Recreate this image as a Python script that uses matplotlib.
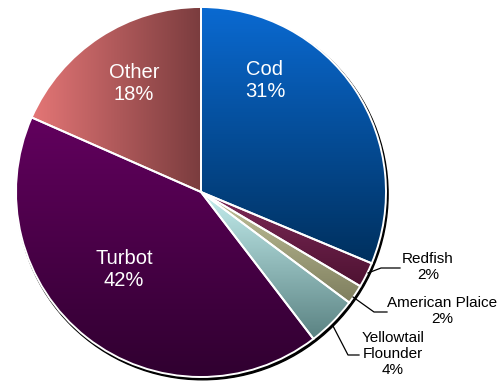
import numpy as np
import matplotlib
matplotlib.use("Agg")
from matplotlib import pyplot as plt
from matplotlib.colors import LinearSegmentedColormap
from matplotlib.patches import Circle

plt.rcParams["font.family"] = ["Liberation Sans", "DejaVu Sans"]

species = ["Cod", "Redfish", "American Plaice", "Yellowtail\nFlounder", "Turbot", "Other"]
shares = [31.3, 2.2, 1.7, 4.4, 42.0, 18.4]

# colori del gradiente (inizio, fine) e direzione per ogni fetta
grad_start = ["#0a6ad2", "#7e2a58", "#c4c49c", "#c4eeee", "#62005e", "#e47676"]
grad_end = ["#00305e", "#4e1232", "#7e7e5e", "#5a8282", "#300030", "#7a3c3e"]
grad_dir = ["v", "v", "v", "v", "v", "h"]

W, H = 502, 381
cx, cy, R = 201, 381 - 192, 185

fig = plt.figure(figsize=(W / 100, H / 100), dpi=100)
ax = fig.add_axes([0, 0, 1, 1])

# ombra sotto la torta
ax.add_patch(Circle((cx + 1.5, cy - 2.2), R + 0.6, color="black", zorder=0))

wedges, _ = ax.pie(shares, center=(cx, cy), radius=R, startangle=90,
                   counterclock=False, frame=True,
                   wedgeprops=dict(edgecolor="white", linewidth=1.4))
ax.set_xlim(0, W)
ax.set_ylim(0, H)
ax.set_aspect("equal")
ax.axis("off")

for w, c0, c1, d in zip(wedges, grad_start, grad_end, grad_dir):
    # bounding box della fetta in coordinate dati
    verts = w.get_transform().transform(w.get_path().vertices)
    verts = ax.transData.inverted().transform(verts)
    x0, y0 = verts.min(axis=0)
    x1, y1 = verts.max(axis=0)
    cmap = LinearSegmentedColormap.from_list("g", [c0, c1])
    if d == "v":
        grad = np.linspace(0, 1, 256).reshape(-1, 1)  # dall'alto verso il basso
    else:
        grad = np.linspace(0, 1, 256).reshape(1, -1)  # da sinistra a destra
    im = ax.imshow(grad, cmap=cmap, extent=(x0, x1, y0, y1), origin="upper",
                   aspect="auto", zorder=1, interpolation="bilinear")
    im.set_clip_path(w)
    w.set_facecolor("none")
    w.set_zorder(2)

ax.set_xlim(0, W)
ax.set_ylim(0, H)


def pct(v):
    return f"{v / sum(shares) * 100:.0f}%"


# etichette dentro le fette grandi
inner = {0: (265, 80.5), 5: (134, 83.5), 4: (124, 269.5)}
for i, (x, y) in inner.items():
    ax.text(x, H - y, f"{species[i]}\n{pct(shares[i])}", color="white",
            fontsize=14.5, ha="center", va="center", linespacing=1.2, zorder=3)

# etichette esterne con linee guida
outer = {
    1: ([368, 381, 400], [273, 268, 268], (428, 267)),
    2: ([353, 374, 387], [297, 312, 312], (442.5, 311)),
    3: ([333, 348, 359], [326, 355, 355], (393, 354)),
}
for i, (lx, ly, (tx, ty)) in outer.items():
    ax.plot(lx, [H - v for v in ly], color="black", lw=0.9, zorder=3)
    ax.text(tx, H - ty, f"{species[i]}\n{pct(shares[i])}", color="black",
            fontsize=11, ha="center", va="center", linespacing=1.2, zorder=3)

fig.savefig("out.png", dpi=100)
